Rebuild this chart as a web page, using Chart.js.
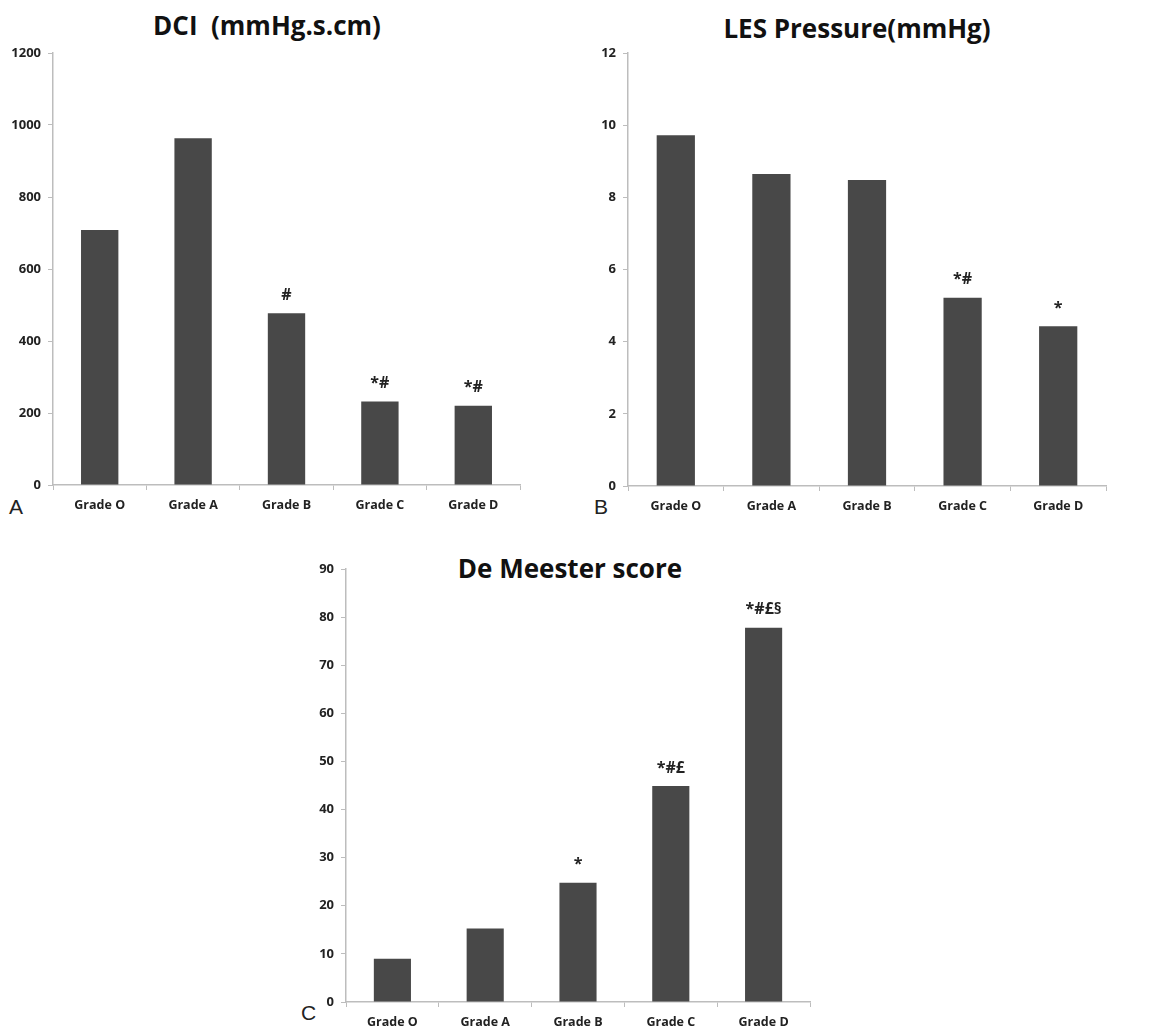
<!DOCTYPE html>
<html>
<head>
<meta charset="utf-8">
<script src="https://cdn.jsdelivr.net/npm/chart.js@4.4.1/dist/chart.umd.min.js"></script>
<style>
  body { margin: 0; background: #fff; width: 1163px; height: 1029px; position: relative; overflow: hidden; font-family: "Open Sans", sans-serif; }
  canvas { position: absolute; }
  .title { position: absolute; font-weight: bold; font-size: 26px; color: #111; transform: translate(-50%, -50%); white-space: pre; }
  .panel { position: absolute; font-family: "Liberation Sans", sans-serif; font-size: 21px; color: #222; transform: translateY(-50%); }
</style>
</head>
<body>
<div class="title" style="left:267px; top:25px">DCI  (mmHg.s.cm)</div>
<div class="title" style="left:857px; top:28px">LES Pressure(mmHg)</div>
<div class="title" style="left:570px; top:568px">De Meester score</div>
<div class="panel" style="left:9px; top:507px">A</div>
<div class="panel" style="left:594px; top:507px">B</div>
<div class="panel" style="left:301px; top:1013px">C</div>

<canvas id="chartA" width="540" height="492" style="left:0px; top:38px"></canvas>
<canvas id="chartB" width="583" height="492" style="left:580px; top:38px"></canvas>
<canvas id="chartC" width="560" height="475" style="left:290px; top:554px"></canvas>

<script>
// --- Dados ---
const grades = ["Grade O", "Grade A", "Grade B", "Grade C", "Grade D"];

const dciValues = [708, 963, 477, 232, 220];
const dciMarks = ["", "", "#", "*#", "*#"];
const dciTicks = [0, 200, 400, 600, 800, 1000, 1200];

const lesValues = [9.72, 8.65, 8.48, 5.22, 4.43];
const lesMarks = ["", "", "", "*#", "*"];
const lesTicks = [0, 2, 4, 6, 8, 10, 12];

const meesterValues = [9.0, 15.3, 24.8, 44.9, 77.8];
const meesterMarks = ["", "", "*", "*#£", "*#£§"];
const meesterTicks = [0, 10, 20, 30, 40, 50, 60, 70, 80, 90];

const BAR = '#484848';
const AXIS = '#bdbdbd';
const TEXT = '#222';

// marcas de significancia acima das barras
const sigMarks = {
    id: 'sigMarks',
    afterDatasetsDraw(chart, args, opts) {
        const ctx = chart.ctx;
        const meta = chart.getDatasetMeta(0);
        ctx.save();
        ctx.fillStyle = TEXT;
        ctx.font = "bold 16px 'Open Sans', sans-serif";
        ctx.textAlign = 'center';
        ctx.textBaseline = 'middle';
        meta.data.forEach((bar, i) => {
            const t = opts.marks[i];
            if (t) ctx.fillText(t, bar.x, bar.y - 18);
        });
        ctx.restore();
    }
};

// plot = margens internas do canvas: left (largura eixo y), top, right, bottom (altura eixo x)
function makeChart(id, values, marks, ticks, plot) {
    const ctx = document.getElementById(id).getContext('2d');
    const max = ticks[ticks.length - 1];
    const step = ticks[1] - ticks[0];
    return new Chart(ctx, {
        type: 'bar',
        data: {
            labels: grades,
            datasets: [{
                data: values,
                backgroundColor: BAR,
                borderWidth: 0,
                categoryPercentage: 1,
                barPercentage: 0.4
            }]
        },
        options: {
            responsive: false,
            animation: false,
            layout: { padding: { top: plot.top, right: plot.right, left: 0, bottom: 0 } },
            plugins: {
                legend: { display: false },
                tooltip: { enabled: false },
                sigMarks: { marks: marks }
            },
            scales: {
                x: {
                    grid: { display: true, drawOnChartArea: false, drawTicks: true, tickLength: 5, color: AXIS, offset: true },
                    border: { color: AXIS, width: 1.5 },
                    ticks: { color: TEXT, padding: 8, font: { family: "'Open Sans', sans-serif", size: 12.5, weight: 'bold' }, maxRotation: 0 },
                    afterFit: (s) => { s.height = plot.bottom; }
                },
                y: {
                    min: 0, max: max,
                    grid: { display: true, drawOnChartArea: false, drawTicks: true, tickLength: 5, color: AXIS },
                    border: { color: AXIS, width: 1.5 },
                    ticks: {
                        stepSize: step, color: TEXT, padding: 7,
                        font: { family: "'Open Sans', sans-serif", size: 13, weight: 'bold' },
                        callback: (v) => String(v)
                    },
                    afterFit: (s) => { s.width = plot.left; }
                }
            }
        },
        plugins: [sigMarks]
    });
}

makeChart('chartA', dciValues, dciMarks, dciTicks, { left: 53, top: 15, right: 20, bottom: 45 });
makeChart('chartB', lesValues, lesMarks, lesTicks, { left: 48, top: 15, right: 57, bottom: 44 });
makeChart('chartC', meesterValues, meesterMarks, meesterTicks, { left: 56, top: 15, right: 40, bottom: 27 });
</script>
</body>
</html>
